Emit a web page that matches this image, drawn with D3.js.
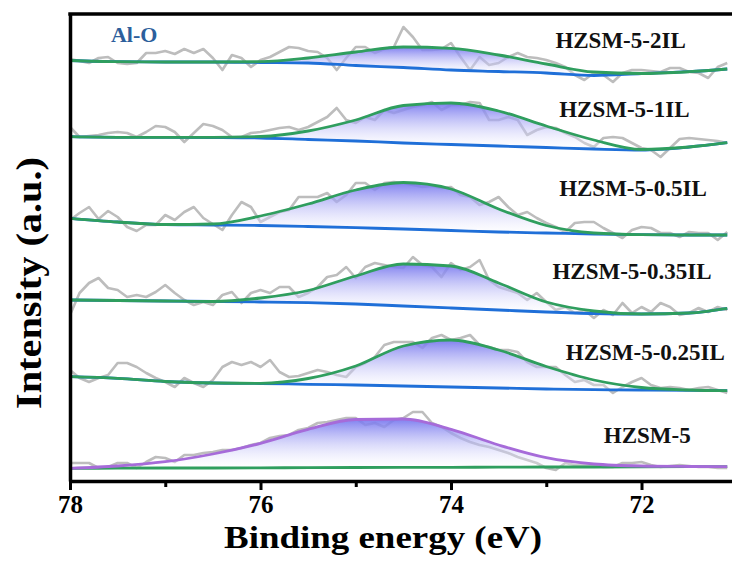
<!DOCTYPE html>
<html>
<head>
<meta charset="utf-8">
<script src="https://cdn.jsdelivr.net/npm/d3@7/dist/d3.min.js"></script>
<style>
  body { margin: 0; background: #ffffff; }
  svg { display: block; }
</style>
</head>
<body>
<div id="chart"></div>
<script>
// energies of the raw spectra (eV)
var rawEnergy = [
  78.0, 77.9, 77.8, 77.7, 77.6, 77.5, 77.4, 77.3, 77.2, 77.1,
  77.0, 76.9, 76.8, 76.7, 76.6, 76.5, 76.4, 76.3, 76.2, 76.1,
  76.0, 75.9, 75.8, 75.7, 75.6, 75.5, 75.4, 75.3, 75.2, 75.1,
  75.0, 74.9, 74.8, 74.7, 74.6, 74.5, 74.4, 74.3, 74.2, 74.1,
  74.0, 73.9, 73.8, 73.7, 73.6, 73.5, 73.4, 73.3, 73.2, 73.1,
  73.0, 72.9, 72.8, 72.7, 72.6, 72.5, 72.4, 72.3, 72.2, 72.1,
  72.0, 71.9, 71.8, 71.7, 71.6, 71.5, 71.4, 71.3, 71.2, 71.1
];
// energies where the fitted peak and background are read
var fitEnergy = [78, 77.5, 77, 76.5, 76, 75.5, 75, 74.5, 74, 73.5, 73, 72.5, 72, 71.5, 71.1];

var sampleNames = ["HZSM-5-2IL", "HZSM-5-1IL", "HZSM-5-0.5IL", "HZSM-5-0.35IL", "HZSM-5-0.25IL", "HZSM-5"];

// stacked intensities (a.u.), top trace first
var raw2IL = [
  422, 420, 418, 423, 424, 418, 417, 418, 428, 428,
  430, 427, 432, 428, 432, 423, 411, 426, 423, 414,
  421, 424, 429, 434, 433, 430, 429, 423, 411, 423,
  434, 434, 428, 432, 434, 454, 444, 431, 431, 432,
  438, 424, 411, 424, 416, 418, 424, 428, 424, 423,
  421, 418, 414, 406, 401, 408, 406, 399, 408, 411,
  411, 410, 409, 413, 413, 409, 408, 403, 414, 418
];
var fit2IL = [420.5, 419.3, 419, 419, 419.3, 423, 429, 434, 432.7, 426, 417, 409, 407.5, 409.3, 412];
var bg2IL = [420.5, 419.3, 419, 419, 418.5, 418, 415.5, 413.5, 411, 409.5, 408, 405.5, 407.5, 409.3, 412];

var raw1IL = [
  354, 344, 345, 346, 348, 349, 348, 344, 349, 355,
  354, 349, 339, 348, 357, 355, 351, 344, 344, 348,
  349, 351, 353, 354, 351, 354, 359, 364, 373, 361,
  358, 364, 361, 371, 368, 371, 374, 376, 379, 371,
  376, 376, 379, 378, 361, 361, 364, 361, 346, 351,
  354, 353, 348, 344, 338, 334, 343, 344, 343, 338,
  333, 331, 324, 333, 342, 343, 342, 341, 340, 338
];
var fit1IL = [344.3, 343.7, 343.7, 343.7, 344.5, 350, 361, 375.5, 378, 370, 355, 341, 331.5, 334, 338.3];
var bg1IL = [344.3, 343.7, 343.7, 343.5, 343, 341.5, 340, 338, 336.5, 335, 333.5, 332, 331, 334, 338.3];

var raw05IL = [
  261, 268, 274, 262, 270, 264, 254, 250, 256, 256,
  266, 261, 269, 274, 263, 257, 251, 266, 279, 274,
  259, 264, 269, 271, 284, 284, 284, 288, 279, 286,
  298, 298, 291, 298, 299, 298, 296, 294, 295, 293,
  294, 286, 284, 276, 279, 284, 274, 266, 269, 263,
  258, 254, 249, 258, 259, 259, 253, 248, 243, 251,
  254, 253, 248, 248, 244, 249, 248, 248, 241, 249
];
var fit05IL = [262.7, 259, 256.5, 257, 265, 277, 291, 298.5, 292, 272, 255.5, 248, 246.3, 246, 246];
var bg05IL = [262.7, 259, 256.5, 256, 255.5, 254.5, 253.3, 252, 250.5, 249, 248, 247, 246.3, 246, 246];

var raw035IL = [
  166, 188, 198, 203, 193, 191, 184, 186, 184, 189,
  196, 188, 181, 176, 179, 176, 186, 189, 178, 188,
  191, 188, 194, 194, 184, 188, 194, 204, 206, 214,
  203, 214, 218, 216, 214, 213, 224, 216, 214, 204,
  218, 211, 214, 221, 201, 194, 191, 188, 181, 188,
  179, 171, 174, 168, 171, 163, 171, 166, 178, 168,
  174, 169, 178, 174, 166, 168, 173, 169, 174, 171
];
var fit035IL = [181, 180.5, 180, 179.5, 183, 190.5, 205, 217, 215, 198, 179, 170, 167, 168, 172.7];
var bg035IL = [181, 180.5, 180, 179.5, 179, 178.3, 177, 175, 173, 171, 169, 167.5, 167, 168, 172.7];

var raw025IL = [
  111, 103, 99, 103, 106, 118, 118, 114, 108, 103,
  99, 94, 103, 98, 94, 101, 114, 119, 116, 119,
  114, 121, 109, 104, 105, 108, 111, 109, 106, 104,
  114, 118, 124, 136, 139, 139, 139, 133, 143, 146,
  141, 143, 146, 136, 134, 131, 131, 129, 119, 114,
  114, 114, 106, 99, 101, 96, 96, 88, 94, 99,
  103, 96, 93, 94, 93, 91, 93, 94, 91, 88
];
var fit025IL = [104.3, 102.7, 99.5, 98, 97.7, 102.5, 115, 135, 141, 131, 114.5, 101, 93.5, 91, 90.3];
var bg025IL = [104.3, 102.7, 99.5, 98, 97.5, 96.7, 96, 95, 94, 93, 92, 91.3, 91, 90.7, 90.3];

var rawHZSM = [
  18, 18, 18, 13, 14, 18, 18, 13, 19, 24,
  23, 19, 26, 26, 28, 29, 31, 31, 33, 36,
  38, 43, 45, 46, 51, 53, 58, 59, 61, 63,
  63, 56, 58, 54, 61, 63, 69, 69, 58, 54,
  48, 43, 39, 36, 34, 31, 28, 24, 21, 18,
  13, 11, 18, 16, 16, 15, 14, 14, 18, 18,
  19, 16, 14, 15, 16, 15, 14, 14, 13, 13
];
var fitHZSM = [12.7, 15, 19.3, 27, 37.7, 51.7, 61.5, 62, 51.7, 36, 23.3, 17, 15, 14.5, 14.3];
var bgHZSM = [12.7, 12.8, 13, 13, 13.2, 13.3, 13.5, 13.6, 13.7, 13.8, 14, 14, 14.2, 14.3, 14.3];

var majorTicks = [78, 76, 74, 72];
var minorTicks = [77, 75, 73];

var svgWidth = 732;
var svgHeight = 568;
var plot = { left: 70, right: 732, top: 13, bottom: 481 };

var green = "#2f9e5e";
var blue = "#1f6fd8";
var purple = "#a66bd9";
var grey = "#bdbdbd";
var serif = "'Liberation Serif', 'Times New Roman', serif";

var traces = [
  { name: sampleNames[0], raw: raw2IL, fit: fit2IL, bg: bg2IL, fitColor: green, bgColor: blue, label: [72.22, 433] },
  { name: sampleNames[1], raw: raw1IL, fit: fit1IL, bg: bg1IL, fitColor: green, bgColor: blue, label: [72.18, 364] },
  { name: sampleNames[2], raw: raw05IL, fit: fit05IL, bg: bg05IL, fitColor: green, bgColor: blue, label: [72.09, 285] },
  { name: sampleNames[3], raw: raw035IL, fit: fit035IL, bg: bg035IL, fitColor: green, bgColor: blue, label: [72.10, 202] },
  { name: sampleNames[4], raw: raw025IL, fit: fit025IL, bg: bg025IL, fitColor: green, bgColor: blue, label: [71.96, 121] },
  { name: sampleNames[5], raw: rawHZSM, fit: fitHZSM, bg: bgHZSM, fitColor: purple, bgColor: green, label: [71.94, 38] }
];

var svg = d3.select("#chart")
  .append("svg")
  .attr("width", svgWidth)
  .attr("height", svgHeight);

var x = d3.scaleLinear()
  .domain([78, 71.05])
  .range([plot.left, plot.right]);

var y = d3.scaleLinear()
  .domain([0, 468])
  .range([plot.bottom, plot.top]);

var defs = svg.append("defs");
defs.append("clipPath").attr("id", "plotClip")
  .append("rect")
  .attr("x", plot.left)
  .attr("y", plot.top)
  .attr("width", plot.right - plot.left)
  .attr("height", plot.bottom - plot.top);

var lineRaw = d3.line()
  .x((d, i) => x(rawEnergy[i]))
  .y(d => y(d));

var lineFit = d3.line()
  .x((d, i) => x(fitEnergy[i]))
  .y(d => y(d))
  .curve(d3.curveMonotoneX);

var plotGroup = svg.append("g").attr("clip-path", "url(#plotClip)");

traces.forEach(function(t, k) {
  var grad = defs.append("linearGradient")
    .attr("id", "peakFill" + k)
    .attr("gradientUnits", "userSpaceOnUse")
    .attr("x1", 0).attr("x2", 0)
    .attr("y1", y(d3.max(t.fit)))
    .attr("y2", y(d3.min(t.bg)));
  grad.append("stop").attr("offset", "0%").attr("stop-color", "#7474ee").attr("stop-opacity", 0.92);
  grad.append("stop").attr("offset", "100%").attr("stop-color", "#ffffff").attr("stop-opacity", 0.2);

  var area = d3.area()
    .x((d, i) => x(fitEnergy[i]))
    .y0((d, i) => y(t.bg[i]))
    .y1(d => y(d))
    .curve(d3.curveMonotoneX);

  plotGroup.append("path")
    .datum(t.raw)
    .attr("d", lineRaw)
    .attr("fill", "none")
    .attr("stroke", grey)
    .attr("stroke-width", 2.6)
    .attr("stroke-linejoin", "round");

  plotGroup.append("path")
    .datum(t.fit)
    .attr("d", area)
    .attr("fill", "url(#peakFill" + k + ")");

  plotGroup.append("path")
    .datum(t.bg)
    .attr("d", lineFit)
    .attr("fill", "none")
    .attr("stroke", t.bgColor)
    .attr("stroke-width", 2.8);

  plotGroup.append("path")
    .datum(t.fit)
    .attr("d", lineFit)
    .attr("fill", "none")
    .attr("stroke", t.fitColor)
    .attr("stroke-width", 2.8);

  svg.append("text")
    .attr("x", x(t.label[0]))
    .attr("y", y(t.label[1]))
    .attr("text-anchor", "middle")
    .attr("font-family", serif)
    .attr("font-weight", "bold")
    .attr("font-size", "23px")
    .attr("fill", "#111")
    .text(t.name);
});

svg.append("text")
  .attr("x", x(77.57))
  .attr("y", y(439))
  .attr("font-family", serif)
  .attr("font-weight", "bold")
  .attr("font-size", "22px")
  .attr("fill", "#2d5f9c")
  .text("Al-O");

// frame: left axis, top line, bottom axis
svg.append("g")
  .attr("transform", `translate(${plot.left}, 0)`)
  .call(d3.axisLeft(y).tickValues([]).tickSizeOuter(0))
  .select(".domain")
  .attr("stroke", "#000")
  .attr("stroke-width", 3.5);

svg.append("line")
  .attr("x1", plot.left - 1.7)
  .attr("x2", plot.right)
  .attr("y1", plot.top + 1)
  .attr("y2", plot.top + 1)
  .attr("stroke", "#000")
  .attr("stroke-width", 3.4);

var bottomAxis = d3.axisBottom(x)
  .tickValues(majorTicks)
  .tickSize(9)
  .tickSizeOuter(0)
  .tickPadding(5)
  .tickFormat(d3.format("d"));

var xAxisG = svg.append("g")
  .attr("transform", `translate(0, ${plot.bottom})`)
  .call(bottomAxis);
xAxisG
  .attr("font-family", serif)
  .attr("font-weight", "bold")
  .attr("font-size", 25);
xAxisG.select(".domain").attr("stroke", "#000").attr("stroke-width", 3.5);
xAxisG.selectAll(".tick line").attr("stroke", "#000").attr("stroke-width", 3);
xAxisG.selectAll(".tick text").attr("fill", "#000");

var minorAxis = d3.axisBottom(x)
  .tickValues(minorTicks)
  .tickSize(6)
  .tickFormat("");
var minorG = svg.append("g")
  .attr("transform", `translate(0, ${plot.bottom})`)
  .call(minorAxis);
minorG.select(".domain").remove();
minorG.selectAll(".tick line").attr("stroke", "#000").attr("stroke-width", 3);

svg.append("text")
  .attr("x", 383)
  .attr("y", 548)
  .attr("text-anchor", "middle")
  .attr("font-family", serif)
  .attr("font-weight", "bold")
  .attr("font-size", "32px")
  .attr("textLength", 318)
  .attr("lengthAdjust", "spacingAndGlyphs")
  .text("Binding energy (eV)");

svg.append("text")
  .attr("transform", "rotate(-90)")
  .attr("x", -283)
  .attr("y", 41)
  .attr("text-anchor", "middle")
  .attr("font-family", serif)
  .attr("font-weight", "bold")
  .attr("font-size", "35px")
  .attr("textLength", 252)
  .attr("lengthAdjust", "spacingAndGlyphs")
  .text("Intensity (a.u.)");
</script>
</body>
</html>
